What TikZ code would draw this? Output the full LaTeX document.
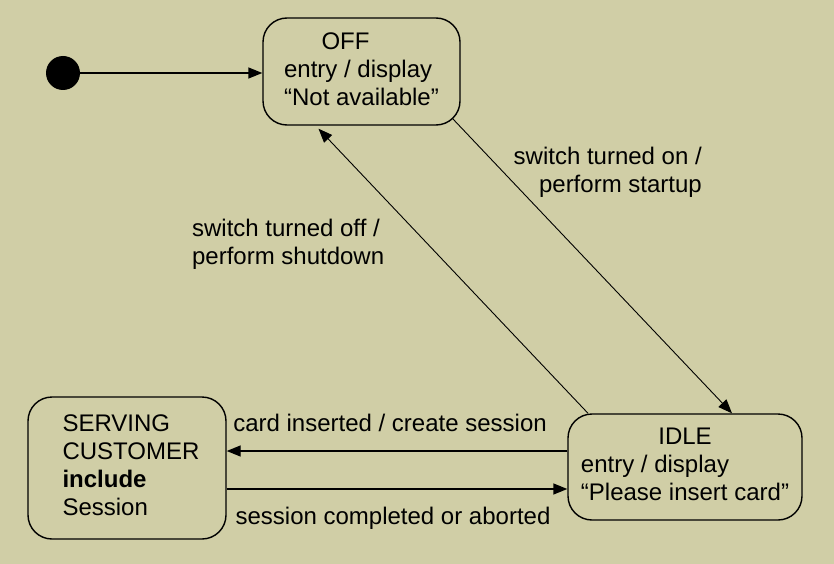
\documentclass[tikz,border=0pt]{standalone}
\usepackage{fontspec}
\setmainfont{Liberation Sans}
\usetikzlibrary{arrows.meta}
\definecolor{atmback}{RGB}{208,206,166}

\begin{document}
\begin{tikzpicture}[x=1pt,y=-1pt,
  every node/.style={font=\fontsize{24}{28}\selectfont},
  state/.style={draw,line width=1.4pt,rounded corners=24pt,inner sep=0pt},
  trans/.style={line width=1.4pt,-{Triangle[length=14pt,width=11pt]}},
  diag/.style={trans,line width=0.9pt},
  lbl/.style={inner sep=0pt}]

  \fill [atmback] (0,0) rectangle (834,564);
  \useasboundingbox (0,0) rectangle (834,564);

  \node [circle,fill,minimum size=34pt,inner sep=0pt] (init) at (63,73) {};

  \node [state,minimum width=197pt,minimum height=107pt] (off) at (361.5,71.5)
    {\begin{tabular}{@{}l@{}}\multicolumn{1}{@{}c@{\hspace{32pt}}}{OFF}\\
      entry / display\\ “Not available”\end{tabular}};

  \node [state,minimum width=234pt,minimum height=106pt] (idle) at (685,467)
    {\begin{tabular}{@{}l@{}}\multicolumn{1}{@{}c@{}}{IDLE}\\
      entry / display\\ “Please insert card”\end{tabular}};

  \node [state,minimum width=198pt,minimum height=142pt] (serving) at (127,468)
    {\begin{tabular}{@{\hspace{8pt}}l@{}}SERVING\\ CUSTOMER\\ \textbf{include}\\ Session\end{tabular}};

  \coordinate (cardin) at ([yshift=16pt]idle.west);
  \coordinate (sessend) at ([yshift=-22pt]idle.west);

  \draw [trans] (init) -- (off.west |- init);

  \draw [diag] ([xshift=-8pt,yshift=7pt]off.south east) -- ([xshift=47pt]idle.north)
    node [lbl,pos=0.095,anchor=north west,xshift=34pt,align=right]
      {switch turned on /\\ perform startup};

  \draw [diag] ([xshift=-97pt]idle.north) -- ([xshift=-43pt,yshift=-3pt]off.south)
    node [lbl,pos=0.684,anchor=north east,xshift=-19pt,align=left]
      {switch turned off /\\ perform shutdown};

  \draw [trans] (cardin) -- (serving.east |- cardin)
    node [lbl,midway,anchor=base,yshift=20pt,xshift=-7pt] {card inserted / create session};

  \draw [trans] (serving.east |- sessend) -- (sessend)
    node [lbl,midway,anchor=base,yshift=-35pt,xshift=-4pt] {session completed or aborted};
\end{tikzpicture}
\end{document}
